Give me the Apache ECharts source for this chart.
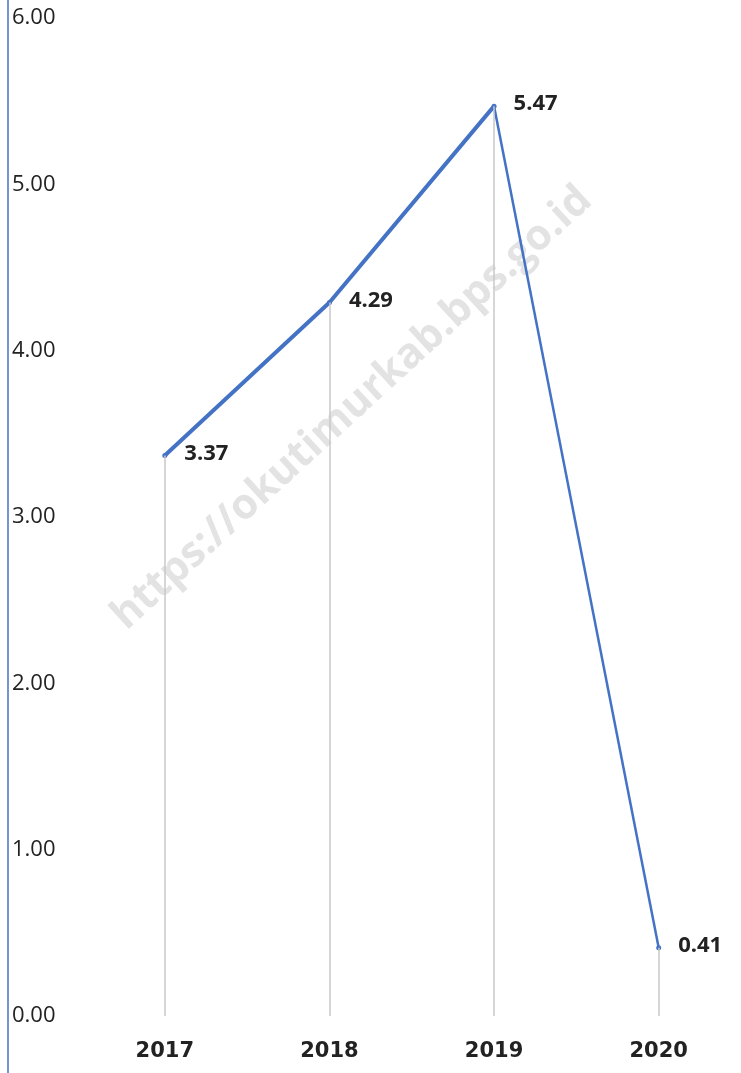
<!DOCTYPE html>
<html><head><meta charset="utf-8">
<script src="https://cdn.jsdelivr.net/npm/echarts@6/dist/echarts.min.js"></script>
<style>html,body{margin:0;padding:0;background:#fff}#c{width:741px;height:1073px}</style>
</head><body><div id="c"></div>
<script>
const years = ['2017', '2018', '2019', '2020'];
const values = [3.37, 4.29, 5.47, 0.41];
const yTicks = [0, 1, 2, 3, 4, 5, 6];
const watermark = 'https://okutimurkab.bps.go.id';

const chart = echarts.init(document.getElementById('c'));
const thick = values.map((v, i) => i <= 2 ? v : null);
const thin = values.map((v, i) => i >= 2 ? v : null);
const dropLines = years.map((y, i) => [{coord: [y, 0]}, {coord: [y, values[i]]}]);

chart.setOption({
  animation: false,
  grid: {left: 82.5, right: -2.5, top: 18, bottom: 57},
  xAxis: {
    type: 'category', data: years, boundaryGap: true,
    axisLine: {show: false}, axisTick: {show: false},
    axisLabel: {fontFamily: 'DejaVu Sans', fontWeight: 'bold', fontSize: 21, color: '#222', margin: 25}
  },
  yAxis: {
    type: 'value', min: yTicks[0], max: yTicks[yTicks.length - 1], interval: 1,
    offset: 74.5,
    axisLine: {show: false}, axisTick: {show: false}, splitLine: {show: false},
    axisLabel: {inside: true, margin: 4, fontFamily: 'Open Sans', fontSize: 22, color: '#222',
      formatter: v => v.toFixed(2)}
  },
  graphic: [
    {type: 'line', shape: {x1: 8, y1: 0, x2: 8, y2: 1073}, style: {stroke: '#4472C4', lineWidth: 1.5}, z: 10},
    {type: 'text', x: 352, y: 408, rotation: 42.5 * Math.PI / 180, z: 0,
      style: {text: watermark, font: 'bold 42px "Open Sans"', fill: '#e3e3e3', align: 'center', verticalAlign: 'middle'}}
  ],
  series: [
    {type: 'line', data: thick, symbol: 'none', z: 3,
      lineStyle: {color: '#4472C4', width: 4},
      markLine: {silent: true, symbol: 'none', label: {show: false},
        lineStyle: {color: '#c9c9c9', width: 1.5, type: 'solid'}, data: dropLines}},
    {type: 'line', data: thin, symbol: 'none', z: 3,
      lineStyle: {color: '#4472C4', width: 2.5}},
    {type: 'line', data: values, symbol: 'circle', symbolSize: 5, z: 4,
      itemStyle: {color: '#4472C4'}, lineStyle: {width: 0, opacity: 0},
      label: {show: true, position: 'right', distance: 17, offset: [0, -2],
        formatter: p => p.value.toFixed(2),
        fontFamily: 'Open Sans', fontWeight: 'bold', fontSize: 22, color: '#222'}}
  ]
});
</script></body></html>
